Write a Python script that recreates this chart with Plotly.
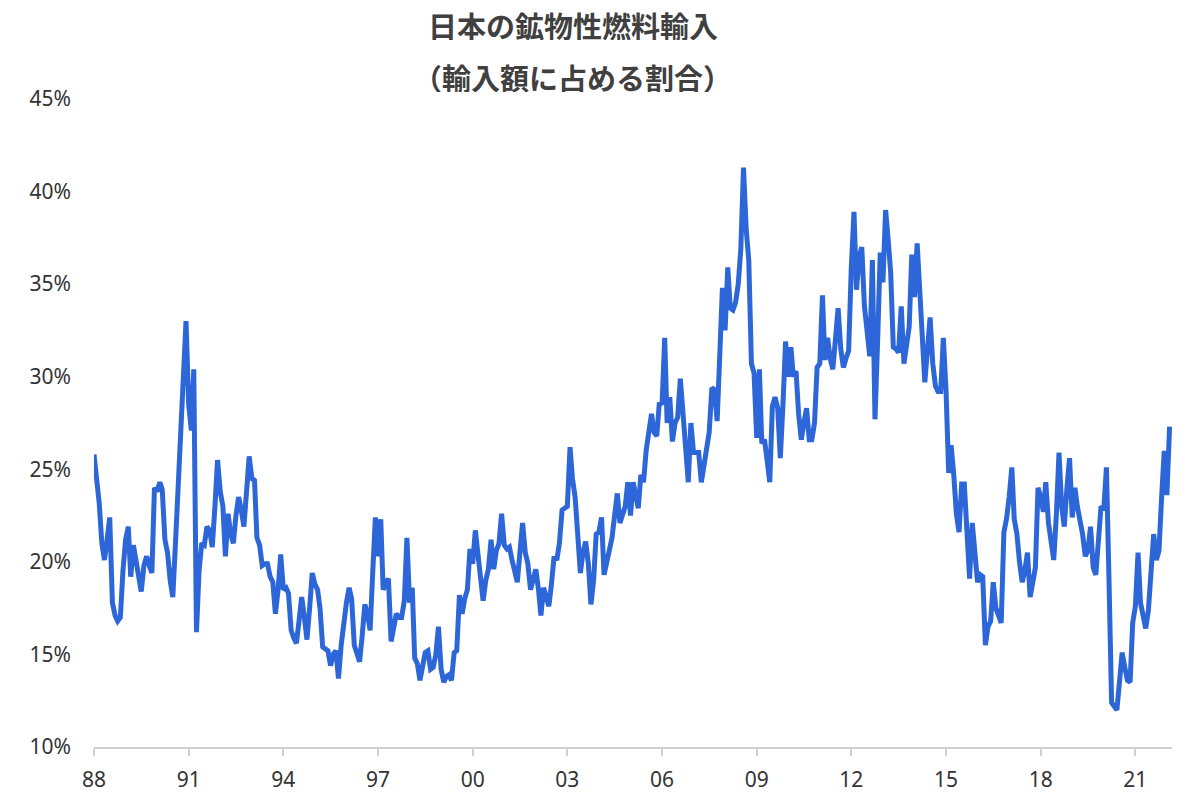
import pandas as pd
import plotly.graph_objects as go

# 鉱物性燃料の輸入額に占める割合（%）、1988年1月から月次
start_month = "1988-01-01"
share = [
    25.8, 24.5, 23.2, 21.0, 20.1, 21.2, 22.4, 17.8, 17.1, 16.8, 17.0, 19.5,
    21.2, 21.9, 19.2, 20.9, 20.0, 19.0, 18.4, 19.8, 20.3, 19.8, 19.4, 24.0,
    23.8, 24.3, 23.9, 21.2, 20.5, 19.0, 18.1, 21.0, 24.3, 26.5, 31.0, 33.0,
    28.5, 27.1, 30.4, 16.2, 19.5, 21.0, 20.9, 21.9, 21.7, 20.8, 23.0, 25.5,
    23.8, 23.0, 20.3, 22.6, 21.5, 21.0, 22.5, 23.5, 22.8, 21.9, 23.8, 25.7,
    24.5, 24.4, 21.3, 20.9, 19.8, 19.9, 19.9, 19.2, 18.9, 17.2, 18.5, 20.4,
    18.5, 18.6, 18.3, 16.3, 15.9, 15.6, 16.8, 18.1, 17.0, 15.8, 17.5, 19.4,
    18.8, 18.5, 17.5, 15.4, 15.3, 15.2, 14.4, 15.0, 15.2, 13.7, 15.5, 16.9,
    17.8, 18.6, 18.0, 15.5, 15.0, 14.6, 16.0, 17.7, 17.2, 16.3, 19.5, 22.4,
    20.3, 22.3, 18.5, 18.8, 19.1, 15.7, 16.5, 17.2, 17.0, 17.0, 17.9, 21.3,
    17.8, 18.6, 14.8, 14.5, 13.6, 14.5, 15.1, 15.2, 14.2, 14.3, 15.0, 16.5,
    14.2, 13.5, 13.8, 13.9, 13.6, 15.1, 15.2, 18.2, 17.2, 18.0, 18.5, 20.7,
    19.9, 21.7, 20.5, 19.5, 17.9, 19.0, 19.6, 21.2, 19.6, 20.6, 21.0, 22.6,
    20.9, 20.7, 20.8, 20.1, 19.5, 18.9, 20.5, 22.1, 20.5, 19.9, 18.5, 19.0,
    19.6, 18.5, 17.1, 18.6, 18.2, 17.6, 18.8, 20.3, 20.1, 21.0, 22.8, 22.9,
    23.0, 26.2, 24.5, 23.5, 21.0, 19.4, 20.5, 21.1, 19.9, 17.7, 19.0, 21.5,
    21.6, 22.4, 19.3, 20.0, 20.6, 21.3, 22.5, 23.7, 22.1, 22.5, 23.0, 24.3,
    22.5, 24.3, 23.5, 22.9, 24.7, 24.3, 26.0, 27.0, 28.0, 27.0, 26.8, 28.6,
    28.5, 32.1, 27.5, 28.9, 26.5, 27.5, 27.8, 29.9, 27.8, 25.5, 24.3, 27.5,
    25.9, 25.9, 25.9, 24.3, 25.2, 26.0, 27.0, 29.4, 29.3, 27.6, 31.5, 34.8,
    32.5, 35.9, 33.7, 33.6, 34.0, 35.0, 36.9, 41.3, 38.0, 36.3, 30.7, 30.2,
    26.7, 30.4, 26.4, 26.6, 25.5, 24.3, 28.4, 28.9, 28.3, 25.6, 28.5, 31.9,
    30.0, 31.6, 30.0, 30.3, 28.0, 26.6, 27.5, 28.3, 26.6, 26.6, 27.5, 30.5,
    30.7, 34.4, 30.9, 32.1, 31.0, 30.4, 32.0, 33.7, 31.5, 30.5, 31.0, 31.4,
    35.9, 38.9, 34.7, 36.5, 37.0, 33.8, 32.5, 31.1, 36.3, 27.7, 32.0, 36.7,
    35.1, 39.0, 37.5, 35.6, 31.6, 31.5, 31.3, 33.8, 30.7, 31.5, 32.7, 36.6,
    34.3, 37.2, 34.5, 32.0, 29.7, 31.5, 33.2, 30.7, 29.5, 29.2, 29.2, 32.1,
    29.3, 24.8, 26.3, 24.7, 22.6, 21.6, 24.2, 24.2, 21.6, 19.1, 22.1, 20.5,
    18.9, 19.3, 19.2, 15.5, 16.5, 16.8, 18.9, 17.5, 17.0, 16.7, 21.6, 22.3,
    23.5, 25.1, 22.3, 21.5, 20.0, 18.9, 19.5, 20.5, 18.1, 19.0, 19.7, 24.0,
    23.5, 22.7, 24.3, 22.1, 21.0, 20.1, 22.5, 25.9, 23.0, 21.9, 24.0, 25.6,
    22.4, 24.0, 23.0, 22.3, 21.5, 20.3, 20.6, 21.9, 19.7, 19.3, 21.2, 23.0,
    22.8, 25.1, 19.2, 12.4, 12.2, 12.0, 13.5, 15.1, 14.3, 13.6, 13.5, 16.7,
    17.6, 20.5, 17.8, 17.2, 16.4, 17.4, 19.5, 21.5, 20.1, 20.6, 23.5, 26.0,
    23.6, 27.3,
]

tick_years = list(range(1988, 2022, 3))
tick_labels = ["88", "91", "94", "97", "00", "03", "06", "09", "12", "15", "18", "21"]
y_ticks = [10, 15, 20, 25, 30, 35, 40, 45]

months = pd.date_range(start_month, periods=len(share), freq="MS")

fig = go.Figure()
fig.add_trace(go.Scatter(
    x=months, y=share, mode="lines",
    line=dict(color="#2D66D8", width=5),
    hoverinfo="x+y",
))

fig.update_layout(
    width=1200, height=800,
    paper_bgcolor="white", plot_bgcolor="white",
    margin=dict(l=94, r=28, t=99, b=53),
    showlegend=False,
    font=dict(family="Noto Sans CJK JP, Noto Sans, sans-serif", color="#333333"),
    annotations=[
        dict(text="<b>日本の鉱物性燃料輸入</b>", xref="paper", yref="paper",
             x=0.4443, y=1.1142, xanchor="center", yanchor="middle",
             height=30, valign="middle",
             showarrow=False, font=dict(size=29, color="#404040")),
        dict(text="<b>（輸入額に占める割合）</b>", xref="paper", yref="paper",
             x=0.4443, y=1.034, xanchor="center", yanchor="middle",
             height=30, valign="middle",
             showarrow=False, font=dict(size=29, color="#404040")),
    ],
)

fig.update_xaxes(
    type="date",
    range=[pd.Timestamp("1988-01-01"), pd.Timestamp("2022-03-01")],
    tickvals=[pd.Timestamp(f"{y}-01-01") for y in tick_years],
    ticktext=tick_labels,
    ticks="outside", ticklen=7, tickcolor="#D0D0D0", tickwidth=1.5,
    showline=True, linecolor="#D0D0D0", linewidth=1.5,
    showgrid=False, zeroline=False, ticklabelstandoff=6, automargin=False,
    tickfont=dict(size=21, color="#333333", family="Noto Sans, sans-serif"),
)
fig.update_yaxes(
    range=[10, 45],
    tickvals=y_ticks,
    ticktext=[f"{v}%" for v in y_ticks],
    showline=False, showgrid=False, zeroline=False,
    ticks="", ticklabelstandoff=22, automargin=False,
    tickfont=dict(size=21, color="#333333", family="Noto Sans, sans-serif"),
)

# drop the default 8px body margin so the figure sits at the window corner
fig.write_html("out.html", config={"displayModeBar": False},
               post_script="document.body.style.margin = '0';")
